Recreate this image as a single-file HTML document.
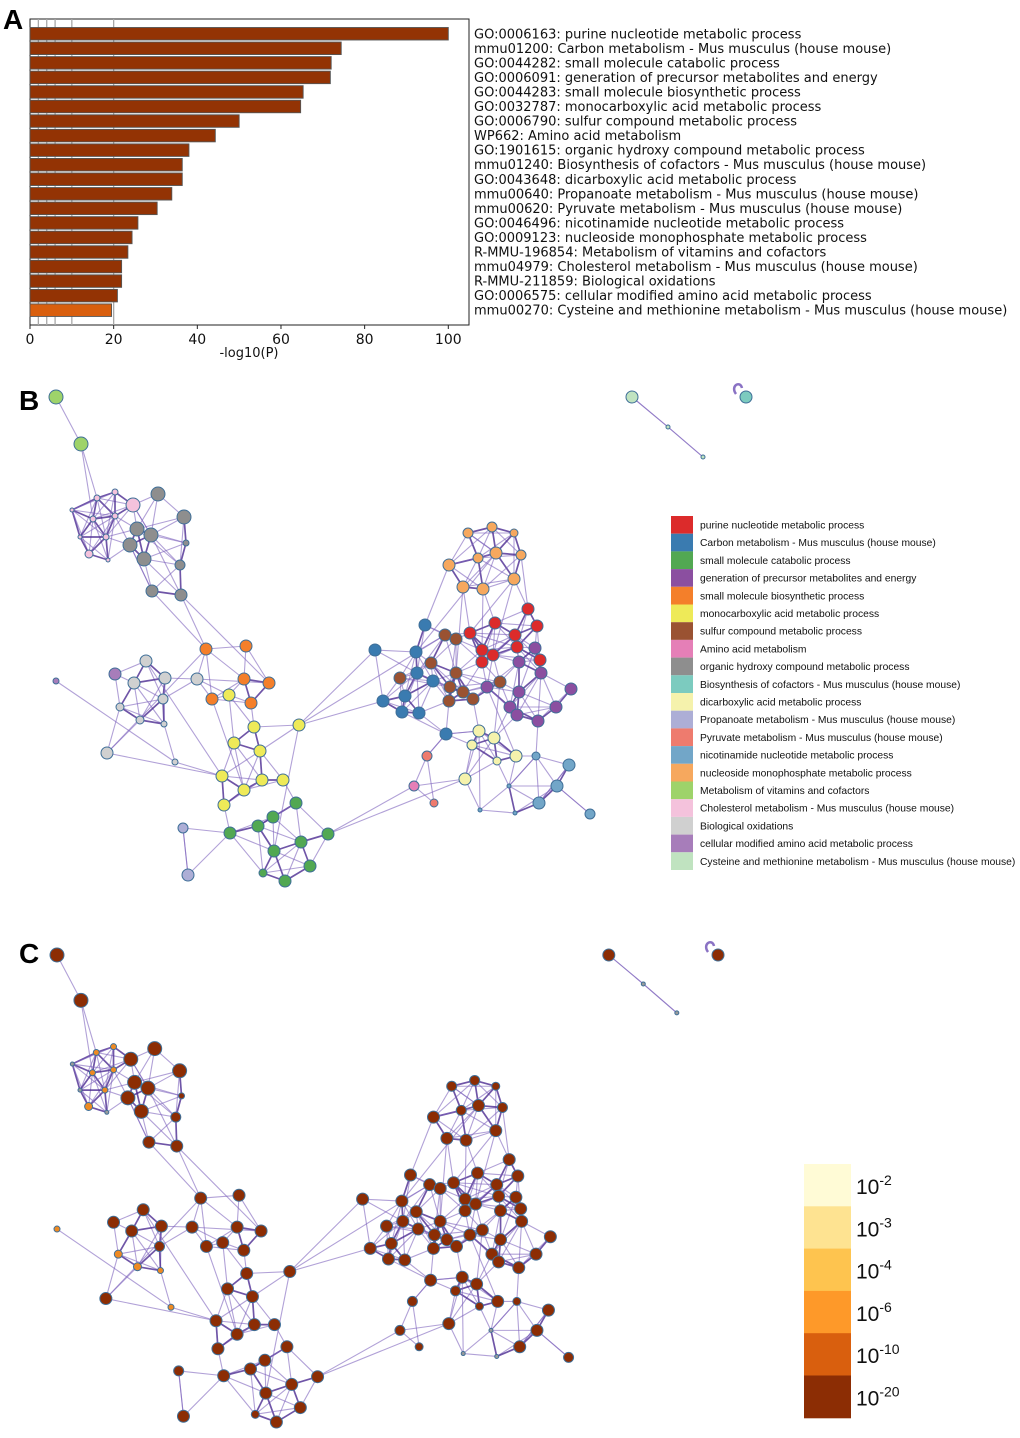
<!DOCTYPE html>
<html><head><meta charset="utf-8">
<style>
html,body{margin:0;padding:0;background:#fff;}
svg{display:block;font-family:"Liberation Sans",sans-serif;}
</style></head>
<body>
<svg id="fig" width="1020" height="1438" viewBox="0 0 1020 1438" xmlns="http://www.w3.org/2000/svg">
<text x="3" y="29" font-size="28" font-weight="bold">A</text>
<text x="19" y="410" font-size="28" font-weight="bold">B</text>
<text x="19" y="963" font-size="28" font-weight="bold">C</text>
<g id="barA"></g>
<g id="netB"></g>
<g id="legB"></g>
<g id="netC"></g>
<g id="cbar"></g>
</svg>
<script>
const NS="http://www.w3.org/2000/svg";
const terms=["GO:0006163: purine nucleotide metabolic process","mmu01200: Carbon metabolism - Mus musculus (house mouse)","GO:0044282: small molecule catabolic process","GO:0006091: generation of precursor metabolites and energy","GO:0044283: small molecule biosynthetic process","GO:0032787: monocarboxylic acid metabolic process","GO:0006790: sulfur compound metabolic process","WP662: Amino acid metabolism","GO:1901615: organic hydroxy compound metabolic process","mmu01240: Biosynthesis of cofactors - Mus musculus (house mouse)","GO:0043648: dicarboxylic acid metabolic process","mmu00640: Propanoate metabolism - Mus musculus (house mouse)","mmu00620: Pyruvate metabolism - Mus musculus (house mouse)","GO:0046496: nicotinamide nucleotide metabolic process","GO:0009123: nucleoside monophosphate metabolic process","R-MMU-196854: Metabolism of vitamins and cofactors","mmu04979: Cholesterol metabolism - Mus musculus (house mouse)","R-MMU-211859: Biological oxidations","GO:0006575: cellular modified amino acid metabolic process","mmu00270: Cysteine and methionine metabolism - Mus musculus (house mouse)"];
const logP=[100,74.4,72,71.8,65.3,64.7,50,44.3,38,36.4,36.4,33.9,30.4,25.8,24.4,23.4,21.9,21.9,20.9,19.5];
const xTicks=[0,20,40,60,80,100];
const gridVals=[2,4,6,10,20];
const legendNames=["purine nucleotide metabolic process","Carbon metabolism - Mus musculus (house mouse)","small molecule catabolic process","generation of precursor metabolites and energy","small molecule biosynthetic process","monocarboxylic acid metabolic process","sulfur compound metabolic process","Amino acid metabolism","organic hydroxy compound metabolic process","Biosynthesis of cofactors - Mus musculus (house mouse)","dicarboxylic acid metabolic process","Propanoate metabolism - Mus musculus (house mouse)","Pyruvate metabolism - Mus musculus (house mouse)","nicotinamide nucleotide metabolic process","nucleoside monophosphate metabolic process","Metabolism of vitamins and cofactors","Cholesterol metabolism - Mus musculus (house mouse)","Biological oxidations","cellular modified amino acid metabolic process","Cysteine and methionine metabolism - Mus musculus (house mouse)"];
const legendColors=["#dc2b2b","#3a7bb0","#52a852","#8b4fa0","#f47f2a","#eeea58","#9a5232","#e57fb7","#8e8e8e","#7ccbbf","#f5f2ac","#adaed6","#ee7b6e","#72a6c8","#f6a85e","#9ed36a","#f4c2dc","#d0d0d0","#a77dba","#c0e3c0"];
const cbarLabels=["-2","-3","-4","-6","-10","-20"];
const cbarColors=["#fffbd6","#fee391","#fec44f","#fe9929","#d95f0e","#8c2d04"];
// nodes: [x, y, radius, cluster index]
const nodes=[
[56,397,7,15],[81,444,7,15],
[97,498,3,16],[115,492,3,16],[133,505,7,16],[72,510,2,16],[93,519,3,16],[115,516,3,16],[106,537,3,16],[80,537,2,16],[89,554,4,16],[108,560,2,16],
[158,494,7,8],[184,517,7,8],[137,529,7,8],[151,535,7,8],[130,545,7,8],[186,543,3,8],[144,559,7,8],[180,565,5,8],[152,591,6,8],[181,595,6,8],
[206,649,6,4],[246,646,6,4],[244,679,6,4],[269,683,6,4],[212,699,6,4],[251,703,6,4],
[229,695,6,5],[254,727,6,5],[299,725,6,5],[234,743,6,5],[260,751,6,5],[222,776,6,5],[262,780,6,5],[283,780,6,5],[244,790,6,5],[224,805,6,5],
[296,803,6,2],[273,817,6,2],[258,826,6,2],[230,833,6,2],[328,834,6,2],[301,842,6,2],[274,851,6,2],[310,866,6,2],[263,873,4,2],[285,881,6,2],
[183,828,5,11],[188,875,6,11],
[146,661,6,17],[165,678,6,17],[197,679,6,17],[134,683,6,17],[163,699,5,17],[120,707,4,17],[140,720,4,17],[164,724,3,17],[107,753,6,17],[175,762,3,17],
[115,674,6,18],[56,681,3,18],
[468,533,5,14],[492,527,5,14],[514,533,4,14],[478,558,5,14],[496,553,6,14],[521,555,5,14],[449,565,6,14],[514,579,6,14],[463,587,6,14],[483,589,6,14],
[528,609,6,0],[495,623,6,0],[537,626,6,0],[470,633,6,0],[515,635,6,0],[517,647,6,0],[482,650,6,0],[493,655,6,0],[482,662,6,0],[540,660,6,0],
[425,625,6,1],[375,650,6,1],[416,652,6,1],[417,673,6,1],[433,681,6,1],[405,696,6,1],[383,701,6,1],[402,712,6,1],[419,713,6,1],[446,734,6,1],
[445,635,6,6],[456,639,6,6],[431,663,6,6],[400,678,6,6],[456,673,6,6],[450,687,6,6],[463,692,6,6],[473,699,6,6],[449,701,6,6],[500,682,6,6],
[535,648,6,3],[519,662,6,3],[541,673,6,3],[487,687,6,3],[571,689,6,3],[519,692,6,3],[510,707,6,3],[556,707,6,3],[517,715,6,3],[538,721,6,3],
[479,731,6,10],[494,738,6,10],[472,745,5,10],[516,756,6,10],[497,761,4,10],[465,779,6,10],
[536,756,4,13],[569,765,6,13],[557,786,6,13],[509,786,2,13],[539,803,6,13],[590,814,5,13],[480,810,2,13],[515,813,2,13],
[427,756,5,12],[434,803,4,12],[414,786,5,7],
[632,397,6,19],[668,427,2,19],[703,457,2,19],[746,397,6,9]
];
const extraEdges=[[0,1],[1,2],[1,6],[20,22],[21,22],[21,25],[22,58],[52,25],[30,92],[30,88],[42,117],[61,59],[58,33],[59,33],[50,33],[48,41],[48,49],[49,41],
[68,82],[70,75],[71,73],[67,72],[69,79],[71,78],[66,84],[70,96],[69,75],[62,66],[63,68],
[91,112],[101,113],[105,115],[91,126],[117,128],[128,42],[85,92],[83,30],[118,121],[112,124],[122,119],[120,123],[129,130],[130,131],[16,20],[15,21],[14,19],[4,15],[26,36],[30,44]];

function mk(parent,tag,attrs){const e=document.createElementNS(NS,tag);for(const k in attrs)e.setAttribute(k,attrs[k]);parent.appendChild(e);return e;}

// ---------- Panel A ----------
const A=document.getElementById('barA');
const x0=30,x1=448.3,pTop=19,pBot=325,pRight=469;
const xs=v=>x0+(x1-x0)*v/100;
const barStep=14.55,barTop=27.5,barH=12.5;
const ys=i=>barTop+i*barStep;
mk(A,'rect',{x:x0,y:pTop,width:pRight-x0,height:pBot-pTop,fill:'#fff',stroke:'#222','stroke-width':1});
gridVals.forEach(g=>{const l=mk(A,'line',{x1:xs(g),x2:xs(g),y1:pTop,y2:pBot,stroke:'#a8a8a8','stroke-width':1.3});
});
logP.forEach((v,i)=>{
 const r=mk(A,'rect',{x:x0,y:ys(i),width:xs(v)-x0,height:barH,fill:i===logP.length-1?'#d95f0e':'#933304',stroke:'#555','stroke-width':0.9});
 
 const t=mk(A,'text',{x:474,y:ys(i)+barH/2+4.5,'font-size':13,fill:'#111','font-family':'DejaVu Sans, sans-serif'});t.textContent=terms[i];
 
});
xTicks.forEach(v=>{mk(A,'line',{x1:xs(v),x2:xs(v),y1:pBot,y2:pBot+4,stroke:'#222'});
 const t=mk(A,'text',{x:xs(v),y:pBot+19,'font-size':14,'text-anchor':'middle',fill:'#111','font-family':'DejaVu Sans, sans-serif'});t.textContent=v;
 });
const xt=mk(A,'text',{x:249,y:357,'font-size':13,'text-anchor':'middle',fill:'#111','font-family':'DejaVu Sans, sans-serif'});xt.textContent='-log10(P)';


// ---------- Networks ----------
function edgesFor(){
 const out=[];
 for(let i=0;i<nodes.length;i++)for(let j=i+1;j<nodes.length;j++){
  const a=nodes[i],b=nodes[j];const d=Math.hypot(a[0]-b[0],a[1]-b[1]);
  const same=a[3]===b[3];
  if((same&&d<52)||(!same&&d<36)) out.push([i,j,same&&d<32]);
 }
 extraEdges.forEach(e=>out.push([e[0],e[1],false]));
 return out;
}
const E=edgesFor();
function drawNet(g,tf,colorFn,stroke){
 const eg=mk(g,'g',{});
 E.forEach(([i,j,strong])=>{const a=tf(nodes[i]),b=tf(nodes[j]);
  const l=mk(eg,'line',{x1:a[0],y1:a[1],x2:b[0],y2:b[1],stroke:strong?'#4b2a91':'#7d63bd','stroke-width':strong?1.7:1.1,'stroke-opacity':strong?0.8:0.6});
  });
 const t=tf(nodes[nodes.length-1]);
 const lp=mk(eg,'path',{d:`M${t[0]-10} ${t[1]-3} c-6 -8 4 -14 6 -6`,fill:'none',stroke:'#8a72c4','stroke-width':2.5});
 
 nodes.forEach((n,i)=>{const p=tf(n);
  const c=mk(g,'circle',{cx:p[0],cy:p[1],r:n[2]*p[2],fill:colorFn(n),stroke:stroke,'stroke-width':1});
  });
}
drawNet(document.getElementById('netB'),n=>[n[0],n[1],1],n=>legendColors[n[3]],'#3f6f98');
drawNet(document.getElementById('netC'),n=>[57+(n[0]-56)*0.958,955+(n[1]-397)*0.965,1],
 n=>{if(n[2]<=2)return '#9a9a9a'; if(n[2]<=4&&(n[3]===16||n[3]===17||n[3]===18))return '#ee8a22'; return '#8c2d04';},'#3f6f98');

// ---------- Legend ----------
const L=document.getElementById('legB');
const lStep=17.7,lTop=516;
legendNames.forEach((nm,i)=>{
 const r=mk(L,'rect',{x:671,y:lTop+i*lStep,width:22,height:lStep,fill:legendColors[i]});
 
 const t=mk(L,'text',{x:700,y:lTop+i*lStep+12.5,'font-size':10.3,fill:'#111'});t.textContent=nm;
 
});

// ---------- Colorbar ----------
const C=document.getElementById('cbar');
const cTop=1164,cH=42.3;
cbarColors.forEach((col,i)=>{
 const r=mk(C,'rect',{x:804,y:cTop+i*cH,width:47,height:cH+0.5,fill:col});
 
 const t=mk(C,'text',{x:856,y:cTop+i*cH+30,'font-size':21,fill:'#111'});
 
 const s1=mk(t,'tspan',{});s1.textContent='10';
 const s2=mk(t,'tspan',{dy:-9,'font-size':14});s2.textContent=cbarLabels[i];
});
</script>
</body></html>
